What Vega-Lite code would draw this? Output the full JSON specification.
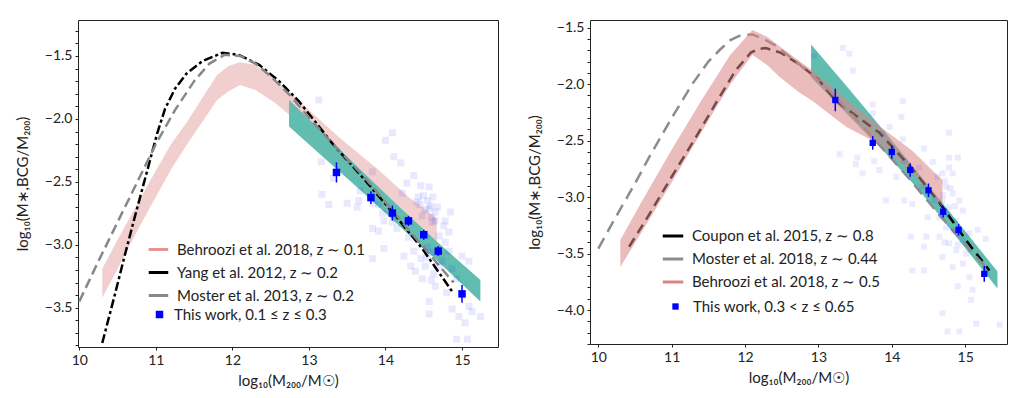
{
  "$schema": "https://vega.github.io/schema/vega-lite/v6.json",
  "background": "white",
  "padding": {"left": 14, "top": 19, "right": 2, "bottom": 2},
  "spacing": 27,
  "config": {
    "font": "Lato",
    "locale": {"number": {"decimal": ".", "thousands": ",", "grouping": [3], "currency": ["$", ""], "minus": "−"}},
    "view": {"stroke": "#222", "strokeWidth": 1},
    "axis": {"domain": false, "grid": false, "labelFont": "Lato", "labelFontSize": 14, "labelColor": "#222", "titleFont": "Lato", "titleFontSize": 15, "titleFontWeight": "normal", "titleColor": "#222", "tickColor": "#222", "tickSize": 3, "labelPadding": 3, "labelSeparation": -40},
    "legend": {"labelFont": "Lato", "labelFontSize": 15, "labelColor": "#222", "labelLimit": 400, "symbolOpacity": 1}
  },
  "resolve": {"scale": {"color": "independent", "shape": "independent"}, "legend": {"color": "independent", "shape": "independent"}},
  "datasets": {
    "pinkL": [{"x":10.30,"lo":-3.42,"hi":-3.19},{"x":10.50,"lo":-3.19,"hi":-2.96},{"x":10.80,"lo":-2.84,"hi":-2.63},{"x":11.00,"lo":-2.62,"hi":-2.41},{"x":11.20,"lo":-2.40,"hi":-2.20},{"x":11.40,"lo":-2.21,"hi":-2.03},{"x":11.60,"lo":-2.03,"hi":-1.84},{"x":11.80,"lo":-1.85,"hi":-1.65},{"x":11.95,"lo":-1.78,"hi":-1.58},{"x":12.10,"lo":-1.73,"hi":-1.55},{"x":12.30,"lo":-1.77,"hi":-1.57},{"x":12.55,"lo":-1.87,"hi":-1.68},{"x":12.75,"lo":-1.97,"hi":-1.79},{"x":13.00,"lo":-2.12,"hi":-1.93},{"x":13.40,"lo":-2.34,"hi":-2.15},{"x":13.90,"lo":-2.60,"hi":-2.40},{"x":14.30,"lo":-2.83,"hi":-2.62},{"x":14.67,"lo":-3.01,"hi":-2.79}],
    "tealL": [{"x":12.74,"lo":-2.06,"hi":-1.85},{"x":13.2,"lo":-2.31,"hi":-2.12},{"x":13.7,"lo":-2.58,"hi":-2.42},{"x":14.2,"lo":-2.86,"hi":-2.71},{"x":14.7,"lo":-3.14,"hi":-2.99},{"x":15.24,"lo":-3.45,"hi":-3.28}],
    "yangL": [{"x":10.30,"y":-3.78},{"x":10.45,"y":-3.43},{"x":10.60,"y":-3.07},{"x":10.72,"y":-2.79},{"x":10.87,"y":-2.45},{"x":11.02,"y":-2.11},{"x":11.12,"y":-1.92},{"x":11.25,"y":-1.76},{"x":11.40,"y":-1.64},{"x":11.61,"y":-1.54},{"x":11.87,"y":-1.475},{"x":12.08,"y":-1.49},{"x":12.35,"y":-1.57},{"x":12.61,"y":-1.70},{"x":12.87,"y":-1.86},{"x":13.30,"y":-2.19},{"x":13.78,"y":-2.52},{"x":14.09,"y":-2.74},{"x":14.48,"y":-3.03},{"x":14.87,"y":-3.37}],
    "mosterL": [{"x":10.0,"y":-3.45},{"x":10.25,"y":-3.13},{"x":10.5,"y":-2.82},{"x":10.75,"y":-2.51},{"x":11.0,"y":-2.20},{"x":11.25,"y":-1.93},{"x":11.5,"y":-1.70},{"x":11.7,"y":-1.56},{"x":11.9,"y":-1.49},{"x":12.1,"y":-1.50},{"x":12.3,"y":-1.56},{"x":12.5,"y":-1.66},{"x":12.75,"y":-1.81},{"x":13.0,"y":-1.99},{"x":13.3,"y":-2.19},{"x":13.75,"y":-2.48},{"x":14.3,"y":-2.88},{"x":14.89,"y":-3.30}],
    "workL": [{"x":13.36,"y":-2.425,"lo":-2.505,"hi":-2.345},{"x":13.81,"y":-2.625,"lo":-2.675,"hi":-2.575},{"x":14.09,"y":-2.748,"lo":-2.808,"hi":-2.688},{"x":14.30,"y":-2.81,"lo":-2.85,"hi":-2.77},{"x":14.50,"y":-2.92,"lo":-2.96,"hi":-2.88},{"x":14.69,"y":-3.05,"lo":-3.09,"hi":-3.01},{"x":15.00,"y":-3.39,"lo":-3.46,"hi":-3.32}],
    "faintL": [{"x":13.13,"y":-1.85},{"x":14.09,"y":-2.11},{"x":14.0,"y":-2.17},{"x":14.11,"y":-2.30},{"x":14.20,"y":-2.35},{"x":13.16,"y":-2.34},{"x":13.83,"y":-2.42},{"x":14.37,"y":-2.45},{"x":13.32,"y":-2.47},{"x":14.28,"y":-2.51},{"x":14.57,"y":-2.54},{"x":13.67,"y":-2.57},{"x":13.17,"y":-2.60},{"x":14.22,"y":-2.59},{"x":14.43,"y":-2.62},{"x":13.65,"y":-2.65},{"x":13.50,"y":-2.67},{"x":13.26,"y":-2.68},{"x":14.59,"y":-2.69},{"x":13.63,"y":-2.70},{"x":13.91,"y":-2.68},{"x":14.85,"y":-2.74},{"x":13.98,"y":-2.81},{"x":14.65,"y":-2.81},{"x":14.76,"y":-2.85},{"x":13.91,"y":-2.89},{"x":14.15,"y":-2.87},{"x":14.83,"y":-2.90},{"x":14.30,"y":-2.94},{"x":13.98,"y":-3.03},{"x":14.37,"y":-3.05},{"x":14.78,"y":-2.98},{"x":15.0,"y":-3.09},{"x":14.54,"y":-3.10},{"x":14.74,"y":-3.13},{"x":15.09,"y":-3.13},{"x":14.39,"y":-3.21},{"x":14.63,"y":-3.23},{"x":14.48,"y":-3.27},{"x":14.65,"y":-3.33},{"x":14.57,"y":-3.45},{"x":14.87,"y":-3.51},{"x":14.57,"y":-3.55},{"x":15.09,"y":-3.49},{"x":15.24,"y":-3.57},{"x":15.13,"y":-3.53},{"x":15.04,"y":-3.62},{"x":14.93,"y":-3.75},{"x":15.07,"y":-3.75},{"x":14.96,"y":-3.57},{"x":14.41,"y":-2.66},{"x":14.48,"y":-2.77},{"x":14.61,"y":-2.82},{"x":14.70,"y":-2.93},{"x":14.52,"y":-3.17},{"x":14.70,"y":-3.17},{"x":14.33,"y":-3.17},{"x":14.24,"y":-3.09},{"x":14.46,"y":-3.11},{"x":13.84,"y":-2.67},{"x":13.96,"y":-2.75},{"x":14.09,"y":-2.82},{"x":13.83,"y":-2.87},{"x":14.46,"y":-2.53},{"x":14.50,"y":-2.61},{"x":14.57,"y":-2.71},{"x":14.65,"y":-2.74},{"x":14.78,"y":-2.81},{"x":13.83,"y":-3.11},{"x":14.83,"y":-3.05},{"x":14.87,"y":-3.19},{"x":14.93,"y":-3.27},{"x":14.80,"y":-3.38},{"x":14.55,"y":-2.65},{"x":14.60,"y":-2.78},{"x":14.52,"y":-2.72},{"x":14.62,"y":-2.62},{"x":14.68,"y":-2.70},{"x":14.45,"y":-2.68},{"x":14.55,"y":-3.02},{"x":14.62,"y":-3.06},{"x":14.60,"y":-3.28}],
    "pinkR": [{"x":10.30,"lo":-3.62,"hi":-3.38},{"x":10.6,"lo":-3.30,"hi":-3.03},{"x":11.0,"lo":-2.87,"hi":-2.58},{"x":11.4,"lo":-2.43,"hi":-2.15},{"x":11.8,"lo":-2.00,"hi":-1.74},{"x":12.1,"lo":-1.74,"hi":-1.52},{"x":12.3,"lo":-1.83,"hi":-1.58},{"x":12.46,"lo":-1.93,"hi":-1.66},{"x":12.73,"lo":-2.07,"hi":-1.79},{"x":12.92,"lo":-2.15,"hi":-1.88},{"x":13.38,"lo":-2.38,"hi":-2.13},{"x":13.83,"lo":-2.53,"hi":-2.37},{"x":14.28,"lo":-2.79,"hi":-2.59},{"x":14.69,"lo":-3.09,"hi":-2.85}],
    "tealR": [{"x":12.90,"lo":-1.94,"hi":-1.65},{"x":13.4,"lo":-2.27,"hi":-2.03},{"x":13.9,"lo":-2.60,"hi":-2.42},{"x":14.4,"lo":-2.96,"hi":-2.82},{"x":14.9,"lo":-3.37,"hi":-3.22},{"x":15.44,"lo":-3.81,"hi":-3.66}],
    "couponR": [{"x":10.42,"y":-3.44},{"x":10.67,"y":-3.18},{"x":11.0,"y":-2.82},{"x":11.33,"y":-2.47},{"x":11.6,"y":-2.17},{"x":11.87,"y":-1.88},{"x":12.08,"y":-1.72},{"x":12.18,"y":-1.69},{"x":12.28,"y":-1.68},{"x":12.48,"y":-1.72},{"x":12.73,"y":-1.82},{"x":13.0,"y":-1.96},{"x":13.24,"y":-2.15},{"x":13.83,"y":-2.43},{"x":14.28,"y":-2.75},{"x":14.65,"y":-3.05},{"x":15.01,"y":-3.38},{"x":15.33,"y":-3.65}],
    "mosterR": [{"x":10.0,"y":-3.456},{"x":10.21,"y":-3.21},{"x":10.5,"y":-2.88},{"x":10.69,"y":-2.65},{"x":11.0,"y":-2.30},{"x":11.28,"y":-2.00},{"x":11.5,"y":-1.80},{"x":11.65,"y":-1.70},{"x":11.8,"y":-1.61},{"x":11.95,"y":-1.565},{"x":12.1,"y":-1.56},{"x":12.25,"y":-1.60},{"x":12.42,"y":-1.66},{"x":12.73,"y":-1.82},{"x":13.1,"y":-2.02},{"x":13.33,"y":-2.18},{"x":13.78,"y":-2.50},{"x":14.24,"y":-2.84},{"x":14.69,"y":-3.19},{"x":15.15,"y":-3.53},{"x":15.33,"y":-3.65}],
    "workR": [{"x":13.23,"y":-2.14,"lo":-2.24,"hi":-2.04},{"x":13.74,"y":-2.52,"lo":-2.58,"hi":-2.46},{"x":14.00,"y":-2.60,"lo":-2.66,"hi":-2.54},{"x":14.25,"y":-2.76,"lo":-2.82,"hi":-2.70},{"x":14.50,"y":-2.94,"lo":-3.0,"hi":-2.88},{"x":14.70,"y":-3.13,"lo":-3.18,"hi":-3.08},{"x":14.91,"y":-3.29,"lo":-3.34,"hi":-3.24},{"x":15.26,"y":-3.68,"lo":-3.75,"hi":-3.61}],
    "faintR": [{"x":13.33,"y":-1.68},{"x":13.42,"y":-1.73},{"x":13.47,"y":-1.88},{"x":12.94,"y":-1.75},{"x":13.74,"y":-2.18},{"x":13.74,"y":-2.26},{"x":14.15,"y":-2.15},{"x":14.13,"y":-2.29},{"x":13.97,"y":-2.38},{"x":13.87,"y":-2.44},{"x":14.78,"y":-2.43},{"x":14.15,"y":-2.49},{"x":14.44,"y":-2.57},{"x":14.78,"y":-2.65},{"x":14.90,"y":-2.65},{"x":13.29,"y":-2.62},{"x":13.53,"y":-2.65},{"x":13.60,"y":-2.79},{"x":13.51,"y":-2.71},{"x":13.76,"y":-2.68},{"x":13.83,"y":-2.76},{"x":14.17,"y":-2.68},{"x":14.06,"y":-2.82},{"x":14.37,"y":-2.74},{"x":14.56,"y":-2.69},{"x":14.62,"y":-2.82},{"x":14.42,"y":-2.91},{"x":13.92,"y":-3.03},{"x":14.17,"y":-3.03},{"x":14.28,"y":-3.06},{"x":14.49,"y":-3.18},{"x":14.26,"y":-3.35},{"x":14.47,"y":-3.35},{"x":14.44,"y":-3.44},{"x":15.06,"y":-3.32},{"x":15.17,"y":-3.29},{"x":15.28,"y":-3.37},{"x":14.83,"y":-2.79},{"x":14.74,"y":-2.91},{"x":14.83,"y":-2.97},{"x":14.92,"y":-3.03},{"x":14.69,"y":-3.03},{"x":14.78,"y":-3.09},{"x":14.97,"y":-3.12},{"x":14.65,"y":-3.18},{"x":14.88,"y":-3.21},{"x":14.74,"y":-3.27},{"x":14.97,"y":-3.38},{"x":14.78,"y":-3.41},{"x":14.88,"y":-3.47},{"x":15.01,"y":-3.50},{"x":14.69,"y":-3.53},{"x":14.83,"y":-3.62},{"x":14.97,"y":-3.59},{"x":14.90,"y":-3.79},{"x":15.10,"y":-3.82},{"x":15.08,"y":-3.91},{"x":14.69,"y":-4.03},{"x":15.15,"y":-4.12},{"x":14.76,"y":-4.19},{"x":14.92,"y":-4.19},{"x":15.47,"y":-4.13},{"x":14.28,"y":-3.65},{"x":14.44,"y":-3.65},{"x":15.06,"y":-3.71},{"x":15.28,"y":-3.66},{"x":14.65,"y":-3.35},{"x":14.69,"y":-2.79},{"x":14.58,"y":-3.03},{"x":14.78,"y":-2.74},{"x":14.72,"y":-2.86},{"x":14.80,"y":-2.92},{"x":14.70,"y":-2.98},{"x":14.86,"y":-3.08},{"x":14.76,"y":-3.15},{"x":14.84,"y":-3.30},{"x":14.72,"y":-3.40},{"x":14.90,"y":-3.42}]
  },
  "hconcat": [
    {
      "width": 420,
      "height": 327,
      "layer": [
        {"data": {"name": "pinkL"}, "mark": {"type": "area", "opacity": 0.45},
          "encoding": {
            "x": {"field": "x", "type": "quantitative", "scale": {"domain": [9.983, 15.47], "nice": false, "zero": false},
              "axis": {"title": "log₁₀(M₂₀₀/M☉)", "titlePadding": 6, "format": "d", "values": [10, 11, 12, 13, 14, 15]}},
            "y": {"field": "lo", "type": "quantitative", "scale": {"domain": [-3.812, -1.214], "nice": false, "zero": false},
              "axis": {"title": "log₁₀(M∗,BCG/M₂₀₀)", "titlePadding": 14, "format": ".1f", "labelOverlap": false, "labelSeparation": -40, "tickCount": 200,
                "values": [-3.8,-3.7,-3.6,-3.5,-3.4,-3.3,-3.2,-3.1,-3.0,-2.9,-2.8,-2.7,-2.6,-2.5,-2.4,-2.3,-2.2,-2.1,-2.0,-1.9,-1.8,-1.7,-1.6,-1.5,-1.4,-1.3],
                "labelExpr": "abs(datum.value*2 - round(datum.value*2)) < 0.01 ? datum.label : ''"}},
            "y2": {"field": "hi"},
            "color": {"datum": "Behroozi et al. 2018, z ∼ 0.1", "type": "nominal",
              "scale": {"domain": ["Behroozi et al. 2018, z ∼ 0.1", "Yang et al. 2012, z ∼ 0.2", "Moster et al. 2013, z ∼ 0.2"], "range": ["#e39595", "#000000", "#888888"]},
              "legend": {"title": null, "orient": "none", "legendX": 69, "legendY": 218, "labelOffset": 7, "rowPadding": 3, "symbolType": "stroke", "symbolSize": 380, "symbolStrokeWidth": 3}}}},
        {"data": {"name": "tealL"}, "mark": {"type": "area", "color": "#62bdb1", "opacity": 1},
          "encoding": {"x": {"field": "x", "type": "quantitative"}, "y": {"field": "lo", "type": "quantitative"}, "y2": {"field": "hi"}}},
        {"data": {"name": "yangL"}, "mark": {"type": "line", "strokeWidth": 2.5, "strokeDash": [9, 3, 3, 3]},
          "encoding": {"x": {"field": "x", "type": "quantitative"}, "y": {"field": "y", "type": "quantitative"}, "color": {"datum": "Yang et al. 2012, z ∼ 0.2", "type": "nominal"}}},
        {"data": {"name": "mosterL"}, "mark": {"type": "line", "strokeWidth": 2.5, "strokeDash": [10, 5]},
          "encoding": {"x": {"field": "x", "type": "quantitative"}, "y": {"field": "y", "type": "quantitative"}, "color": {"datum": "Moster et al. 2013, z ∼ 0.2", "type": "nominal"}}},
        {"data": {"name": "faintL"}, "mark": {"type": "square", "size": 49, "color": "#0000ff", "opacity": 0.09},
          "encoding": {"x": {"field": "x", "type": "quantitative"}, "y": {"field": "y", "type": "quantitative"}}},
        {"data": {"name": "workL"}, "mark": {"type": "rule", "color": "#0000ff", "strokeWidth": 1.5},
          "encoding": {"x": {"field": "x", "type": "quantitative"}, "y": {"field": "lo", "type": "quantitative"}, "y2": {"field": "hi"}}},
        {"data": {"name": "workL"}, "mark": {"type": "point", "filled": true, "size": 56, "opacity": 1, "color": "#0000ff"},
          "encoding": {"x": {"field": "x", "type": "quantitative"}, "y": {"field": "y", "type": "quantitative"},
            "shape": {"datum": "This work, 0.1 ≤ z ≤ 0.3", "type": "nominal", "scale": {"range": ["square"]},
              "legend": {"title": null, "orient": "none", "legendX": 74, "legendY": 287, "labelOffset": 7, "symbolSize": 56, "symbolFillColor": "#0000ff", "symbolStrokeWidth": 0}}}}
      ]
    },
    {
      "width": 417,
      "height": 324,
      "layer": [
        {"data": {"name": "tealR"}, "mark": {"type": "area", "color": "#62bdb1", "opacity": 1},
          "encoding": {
            "x": {"field": "x", "type": "quantitative", "scale": {"domain": [9.887, 15.57], "nice": false, "zero": false},
              "axis": {"title": "log₁₀(M₂₀₀/M☉)", "titlePadding": 6, "format": "d", "values": [10, 11, 12, 13, 14, 15]}},
            "y": {"field": "lo", "type": "quantitative", "scale": {"domain": [-4.301, -1.432], "nice": false, "zero": false},
              "axis": {"title": "log₁₀(M∗,BCG/M₂₀₀)", "titlePadding": 14, "format": ".1f", "labelOverlap": false, "labelSeparation": -40, "tickCount": 200,
                "values": [-4.3,-4.2,-4.1,-4.0,-3.9,-3.8,-3.7,-3.6,-3.5,-3.4,-3.3,-3.2,-3.1,-3.0,-2.9,-2.8,-2.7,-2.6,-2.5,-2.4,-2.3,-2.2,-2.1,-2.0,-1.9,-1.8,-1.7,-1.6,-1.5],
                "labelExpr": "abs(datum.value*2 - round(datum.value*2)) < 0.01 ? datum.label : ''"}},
            "y2": {"field": "hi"}}},
        {"data": {"name": "couponR"}, "mark": {"type": "line", "strokeWidth": 2.5, "strokeDash": [10, 6]},
          "encoding": {"x": {"field": "x", "type": "quantitative"}, "y": {"field": "y", "type": "quantitative"},
            "color": {"datum": "Coupon et al. 2015, z ∼ 0.8", "type": "nominal",
              "scale": {"domain": ["Coupon et al. 2015, z ∼ 0.8", "Moster et al. 2018, z ∼ 0.44", "Behroozi et al. 2018, z ∼ 0.5"], "range": ["#000000", "#8c8c8c", "#d98585"]},
              "legend": {"title": null, "orient": "none", "legendX": 71, "legendY": 204, "labelOffset": 7, "rowPadding": 3, "symbolType": "stroke", "symbolSize": 420, "symbolStrokeWidth": 3}}}},
        {"data": {"name": "mosterR"}, "mark": {"type": "line", "strokeWidth": 2.5, "strokeDash": [12, 7]},
          "encoding": {"x": {"field": "x", "type": "quantitative"}, "y": {"field": "y", "type": "quantitative"}, "color": {"datum": "Moster et al. 2018, z ∼ 0.44", "type": "nominal"}}},
        {"data": {"name": "pinkR"}, "mark": {"type": "area", "opacity": 0.55},
          "encoding": {"x": {"field": "x", "type": "quantitative"}, "y": {"field": "lo", "type": "quantitative"}, "y2": {"field": "hi"}, "color": {"datum": "Behroozi et al. 2018, z ∼ 0.5", "type": "nominal"}}},
        {"data": {"name": "faintR"}, "mark": {"type": "square", "size": 36, "color": "#0000ff", "opacity": 0.08},
          "encoding": {"x": {"field": "x", "type": "quantitative"}, "y": {"field": "y", "type": "quantitative"}}},
        {"data": {"name": "workR"}, "mark": {"type": "rule", "color": "#0000ff", "strokeWidth": 1.5},
          "encoding": {"x": {"field": "x", "type": "quantitative"}, "y": {"field": "lo", "type": "quantitative"}, "y2": {"field": "hi"}}},
        {"data": {"name": "workR"}, "mark": {"type": "point", "filled": true, "size": 40, "opacity": 1, "color": "#0000ff"},
          "encoding": {"x": {"field": "x", "type": "quantitative"}, "y": {"field": "y", "type": "quantitative"},
            "shape": {"datum": "This work, 0.3 < z ≤ 0.65", "type": "nominal", "scale": {"range": ["square"]},
              "legend": {"title": null, "orient": "none", "legendX": 78, "legendY": 279, "labelOffset": 10, "symbolSize": 40, "symbolFillColor": "#0000ff", "symbolStrokeWidth": 0}}}}
      ]
    }
  ]
}
